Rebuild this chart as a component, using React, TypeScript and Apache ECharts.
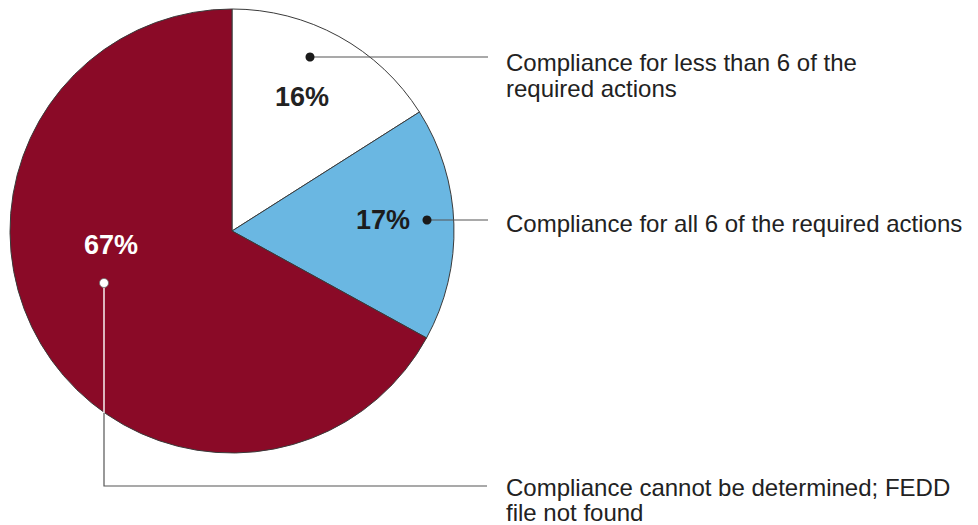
import React, { useEffect, useRef } from "react";
import * as echarts from "echarts";

const categories = [
  "Compliance for less than 6 of the\nrequired actions",
  "Compliance for all 6 of the required actions",
  "Compliance cannot be determined; FEDD\nfile not found",
];
const values = [16, 17, 67];
const colors = ["#FFFFFF", "#6AB7E2", "#8A0A27"];
const labelColors = ["#222222", "#1c1c1c", "#FFFFFF"];

const FONT = '"Liberation Sans", Arial, Helvetica, sans-serif';

export default function App() {
  const ref = useRef<HTMLDivElement>(null);
  useEffect(() => {
    if (!ref.current) return;
    const chart = echarts.init(ref.current, undefined, { renderer: "svg" });
    const cx = 232;
    const cy = 231;
    const R = 222;
    const pctPos = [
      [302, 97],
      [383, 220],
      [111, 245],
    ];
    const textPos = [
      [506, 49, 26],
      [506, 210, 26],
      [506, 475, 25],
    ];
    const lineColor = "#555555";
    chart.setOption({
      animation: false,
      backgroundColor: "#ffffff",
      series: [
        {
          type: "pie",
          center: [cx, cy],
          radius: [0, R],
          startAngle: 90,
          clockwise: true,
          label: { show: false },
          labelLine: { show: false },
          silent: true,
          itemStyle: { borderColor: "#3a3a3a", borderWidth: 1 },
          data: values.map((v, i) => ({
            name: categories[i],
            value: v,
            itemStyle: { color: colors[i] },
          })),
        },
      ],
      graphic: [
        // leader 1
        { type: "line", z: 10, shape: { x1: 310, y1: 57, x2: 488, y2: 57 }, style: { stroke: lineColor, lineWidth: 1.2 } },
        { type: "circle", z: 11, shape: { cx: 310, cy: 57, r: 4.5 }, style: { fill: "#1a1a1a" } },
        // leader 2
        { type: "line", z: 10, shape: { x1: 427, y1: 220, x2: 488, y2: 220 }, style: { stroke: lineColor, lineWidth: 1.2 } },
        { type: "circle", z: 11, shape: { cx: 427, cy: 220, r: 4.5 }, style: { fill: "#1a1a1a" } },
        // leader 3
        { type: "line", z: 10, shape: { x1: 104, y1: 284, x2: 104, y2: 413 }, style: { stroke: "#ffffff", lineWidth: 1.4 } },
        { type: "polyline", z: 10, shape: { points: [[104, 413], [104, 486], [487, 486]] }, style: { stroke: lineColor, lineWidth: 1.2, fill: "none" } },
        { type: "circle", z: 11, shape: { cx: 104, cy: 283, r: 4.5 }, style: { fill: "#ffffff", stroke: "#6b6b6b", lineWidth: 0.8 } },
        // percentage labels
        ...values.map((v, i) => ({
          type: "text",
          z: 12,
          style: {
            text: `${v}%`,
            x: pctPos[i][0],
            y: pctPos[i][1],
            fill: labelColors[i],
            font: `bold 27px ${FONT}`,
            textAlign: "center",
            textVerticalAlign: "middle",
            align: "center",
            verticalAlign: "middle",
          },
        })),
        // category texts
        ...categories.map((c, i) => ({
          type: "text",
          z: 12,
          style: {
            text: c,
            x: textPos[i][0],
            y: textPos[i][1],
            fill: "#222222",
            font: `24px ${FONT}`,
            lineHeight: textPos[i][2],
            textVerticalAlign: "top",
            verticalAlign: "top",
          },
        })),
      ],
    });
    return () => chart.dispose();
  }, []);
  return (
    <div
      ref={ref}
      style={{ position: "fixed", left: 0, top: 0, width: 978, height: 525, background: "#fff" }}
    />
  );
}
